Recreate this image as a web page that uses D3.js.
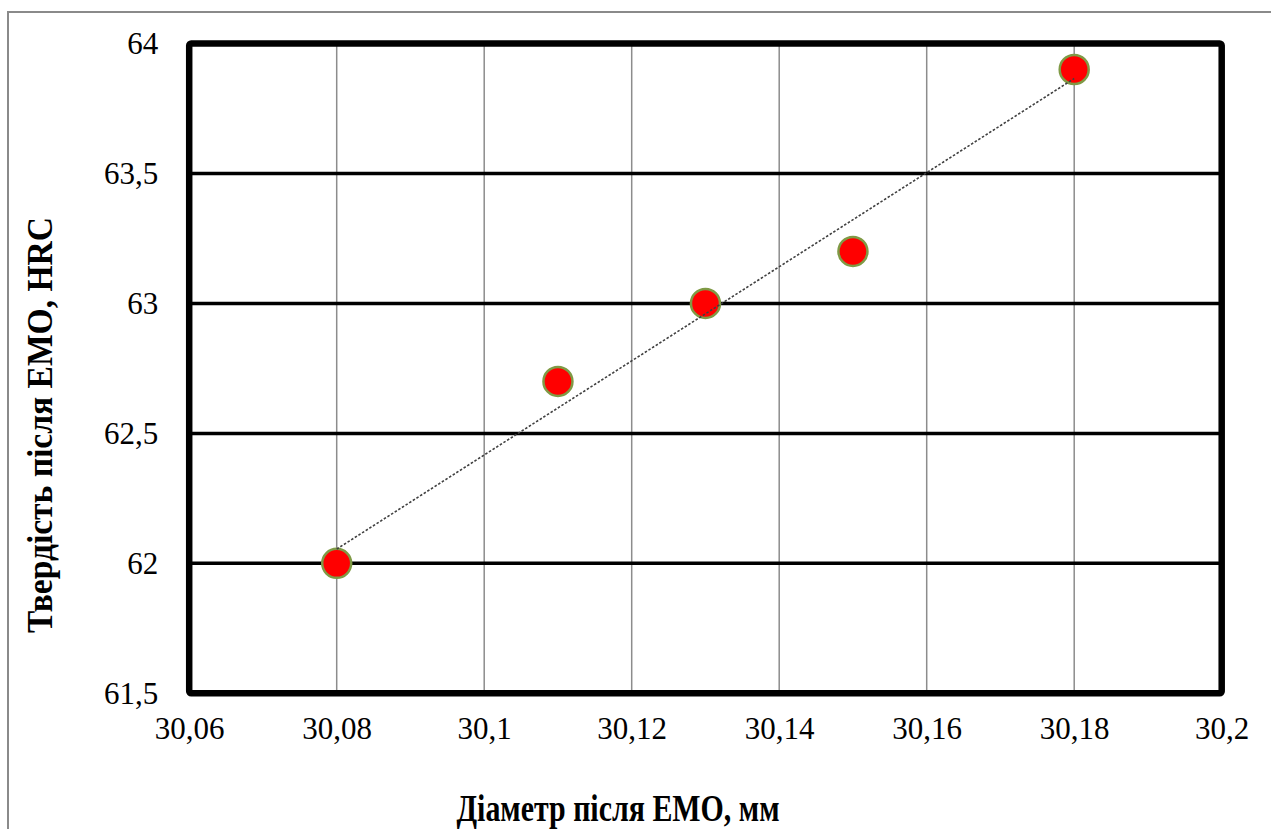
<!DOCTYPE html>
<html lang="uk">
<head>
    <meta charset="UTF-8">
    <title>Твердість після ЕМО</title>
    <script src="https://d3js.org/d3.v7.min.js"></script>
    <style>
        body {
            margin: 0;
            background: #fff;
        }
    </style>
</head>
<body>
<div id="chart"></div>
<script>
    // data
    var diameters = [30.08, 30.11, 30.13, 30.15, 30.18];
    var hardness  = [62.0, 62.7, 63.0, 63.2, 63.9];

    var xTicks = [30.06, 30.08, 30.10, 30.12, 30.14, 30.16, 30.18, 30.20];
    var xTickLabels = ['30,06', '30,08', '30,1', '30,12', '30,14', '30,16', '30,18', '30,2'];
    var yTicks = [61.5, 62, 62.5, 63, 63.5, 64];
    var yTickLabels = ['61,5', '62', '62,5', '63', '63,5', '64'];

    var xTitle = 'Діаметр після ЕМО, мм';
    var yTitle = 'Твердість після ЕМО, HRC';

    var serif = '"Liberation Serif"';

    var w = 1271, h = 829;
    var m = {top: 43.5, left: 189.2, right: 49.3, bottom: 135.7};

    var points = diameters.map(function(d, i){
        return {x: d, y: hardness[i]};
    });

    var xScale = d3.scaleLinear()
                   .domain([xTicks[0], xTicks[xTicks.length - 1]])
                   .range([m.left, w - m.right]);
    var yScale = d3.scaleLinear()
                   .domain([yTicks[0], yTicks[yTicks.length - 1]])
                   .range([h - m.bottom, m.top]);

    var svg = d3.select('#chart')
                .append('svg')
                .attr('width', w)
                .attr('height', h);

    // outer chart border (gray), runs off the right and bottom edge
    svg.append('rect')
       .attr('x', 8)
       .attr('y', 12)
       .attr('width', 1400)
       .attr('height', 1000)
       .style('fill', 'none')
       .style('stroke', '#8a8a8a')
       .style('stroke-width', 2);

    // vertical gridlines
    svg.append('g').selectAll('line')
       .data(xTicks.slice(1, -1))
       .enter()
       .append('line')
       .attr('x1', function(d){return xScale(d)})
       .attr('x2', function(d){return xScale(d)})
       .attr('y1', yScale.range()[1])
       .attr('y2', yScale.range()[0])
       .style('stroke', '#8c8c8c')
       .style('stroke-width', 1.5);

    // horizontal gridlines
    svg.append('g').selectAll('line')
       .data(yTicks.slice(1, -1))
       .enter()
       .append('line')
       .attr('x1', xScale.range()[0])
       .attr('x2', xScale.range()[1])
       .attr('y1', function(d){return yScale(d)})
       .attr('y2', function(d){return yScale(d)})
       .style('stroke', '#000')
       .style('stroke-width', 3.5);

    // plot frame
    svg.append('rect')
       .attr('x', xScale.range()[0])
       .attr('y', yScale.range()[1])
       .attr('width', xScale.range()[1] - xScale.range()[0])
       .attr('height', yScale.range()[0] - yScale.range()[1])
       .attr('rx', 2)
       .style('fill', 'none')
       .style('stroke', '#000')
       .style('stroke-width', 6.5);

    // axes (labels only)
    var xAxis = d3.axisBottom(xScale)
                  .tickValues(xTicks)
                  .tickSize(0)
                  .tickPadding(0)
                  .tickFormat(function(d, i){return xTickLabels[i]});
    var yAxis = d3.axisLeft(yScale)
                  .tickValues(yTicks)
                  .tickSize(0)
                  .tickPadding(0)
                  .tickFormat(function(d, i){return yTickLabels[i]});

    var gx = svg.append('g')
                .attr('transform', 'translate(0,' + (h - m.bottom) + ')')
                .call(xAxis);
    gx.select('.domain').remove();
    gx.selectAll('text')
      .attr('y', 0).attr('dy', 46)
      .style('font-family', serif)
      .style('font-size', '31px')
      .style('fill', '#000');

    var gy = svg.append('g')
                .attr('transform', 'translate(' + m.left + ',0)')
                .call(yAxis);
    gy.select('.domain').remove();
    gy.selectAll('text')
      .attr('x', -31).attr('dy', '0.33em')
      .style('font-family', serif)
      .style('font-size', '31px')
      .style('fill', '#000');

    // linear trendline (least squares over the points)
    var mx = d3.mean(diameters), my = d3.mean(hardness);
    var sxy = d3.sum(points, function(p){return (p.x - mx) * (p.y - my)});
    var sxx = d3.sum(points, function(p){return (p.x - mx) * (p.x - mx)});
    var slope = sxy / sxx, icpt = my - slope * mx;
    var xEnds = d3.extent(diameters);

    // markers
    svg.append('g').selectAll('circle')
       .data(points)
       .enter()
       .append('circle')
       .attr('cx', function(d){return xScale(d.x)})
       .attr('cy', function(d){return yScale(d.y)})
       .attr('r', 14.5)
       .style('fill', '#ff0000')
       .style('stroke', '#7f9a45')
       .style('stroke-width', 2.5);

    svg.append('line')
       .attr('x1', xScale(xEnds[0]))
       .attr('y1', yScale(slope * xEnds[0] + icpt))
       .attr('x2', xScale(xEnds[1]))
       .attr('y2', yScale(slope * xEnds[1] + icpt))
       .style('stroke', '#404040')
       .style('stroke-width', 1.6)
       .style('stroke-dasharray', '2.5,1.8');

    // axis titles
    svg.append('text')
       .attr('x', 618)
       .attr('y', 821)
       .attr('text-anchor', 'middle')
       .attr('textLength', 323)
       .attr('lengthAdjust', 'spacingAndGlyphs')
       .style('font-family', serif)
       .style('font-weight', 'bold')
       .style('font-size', '38px')
       .text(xTitle);

    svg.append('text')
       .attr('transform', 'translate(52,425) rotate(-90)')
       .attr('text-anchor', 'middle')
       .attr('textLength', 416)
       .attr('lengthAdjust', 'spacingAndGlyphs')
       .style('font-family', serif)
       .style('font-weight', 'bold')
       .style('font-size', '36px')
       .text(yTitle);
</script>
</body>
</html>
